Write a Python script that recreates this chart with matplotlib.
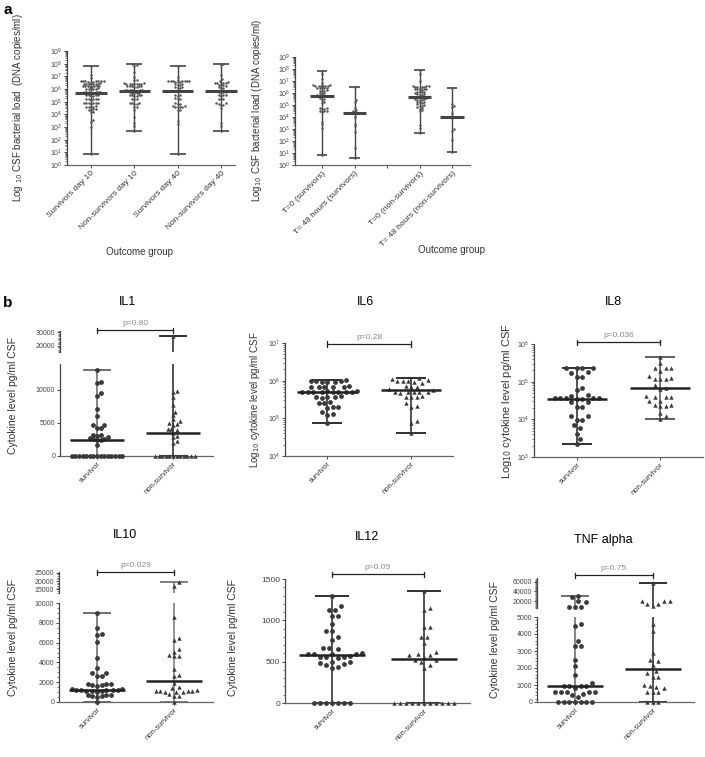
import numpy as np
import matplotlib
matplotlib.use('Agg')
import matplotlib.pyplot as plt
from matplotlib.ticker import LogLocator, MultipleLocator, NullFormatter
from matplotlib.transforms import blended_transform_factory

plt.rcParams['font.family'] = ['Liberation Sans', 'DejaVu Sans']

# ---- panel a: CSF bacterial load, log10 copies/ml ----
a_groups_left = ['Survivors day 10', 'Non-survivors day 10',
                 'Survivors day 40', 'Non-survivors day 40']
a_surv_d10 = [7.82, 7.1, 6.9,
              6.65, 6.62, 6.6, 6.6, 6.58, 6.55, 6.6, 6.63, 6.57, 6.6,
              6.42, 6.4, 6.38, 6.45, 6.4, 6.36, 6.43, 6.4,
              6.2, 6.22, 6.18, 6.25, 6.2, 6.15, 6.2, 6.23,
              6.0, 6.02, 5.98, 6.05, 5.97, 6.0,
              5.78, 5.75, 5.72, 5.77, 5.74, 5.7, 5.76, 5.73,
              5.5, 5.52, 5.48, 5.5, 5.45, 5.55,
              5.22, 5.2, 5.18, 5.25, 5.2, 5.15,
              4.9, 4.88, 4.92, 4.85, 4.9, 4.87, 4.93,
              4.6, 4.62, 4.58, 4.55, 4.6,
              4.4, 4.38, 4.42, 4.35, 4.2, 4.15,
              3.55, 3.4, 3.0, 0.9]
a_nonsurv_d10 = [8.0, 7.9, 7.85, 7.35, 6.95, 6.7, 6.72,
                 6.45, 6.42, 6.4, 6.38, 6.45, 6.4, 6.43, 6.36, 6.4,
                 6.2, 6.22, 6.18, 6.25, 6.2, 6.15, 6.2,
                 5.92, 5.9, 5.88, 5.95, 5.9, 5.87, 5.93, 5.9,
                 5.72, 5.7, 5.68, 5.75, 5.7,
                 5.5, 5.52, 5.48, 5.45, 5.55, 5.5,
                 5.2, 5.18, 5.22,
                 4.88, 4.85, 4.9, 4.82, 4.86,
                 4.6, 4.55, 4.35, 3.8, 3.3, 3.1, 2.7]
a_surv_d40 = [7.8, 6.95, 6.75,
              6.6, 6.62, 6.58, 6.6, 6.55, 6.63, 6.6, 6.57, 6.6, 6.62,
              6.38, 6.35, 6.4, 6.33,
              6.12, 6.1, 6.08, 6.15,
              5.88, 5.85, 5.83, 5.87, 5.85, 5.82,
              5.5, 5.52, 5.48,
              5.25, 5.22, 5.28,
              4.85, 4.88, 4.82,
              4.62, 4.6, 4.58, 4.6, 4.57, 4.63,
              4.38, 4.35, 3.45, 3.25, 0.9]
a_nonsurv_d40 = [8.0, 7.9, 7.1, 6.8, 6.65,
                 6.5, 6.48, 6.52, 6.45, 6.5, 6.47,
                 6.3, 6.28, 6.32, 6.25,
                 6.1, 6.08, 6.12,
                 5.8, 5.78, 5.82, 5.75, 5.8,
                 5.55, 5.5, 5.52, 5.48,
                 5.2, 5.18, 5.22,
                 4.88, 4.85, 4.9, 4.75, 4.72,
                 4.5, 3.3, 3.1, 2.7]
a_med_left = [5.72, 5.85, 5.88, 5.85]

a_groups_right = ['T=0 (survivors)', 'T= 48 hours (survivors)', '',
                  'T=0 (non-survivors)', 'T= 48 hours (non-survivors)']
a_t0_surv = [7.8, 7.6, 7.2, 6.8,
             6.65, 6.6, 6.62, 6.58, 6.63, 6.6, 6.57, 6.6,
             6.42, 6.4, 6.38, 6.45, 6.4,
             6.2, 6.22, 6.18, 6.15,
             6.0, 5.95, 5.98,
             5.77, 5.75, 5.78, 5.8, 5.74,
             5.5, 5.45, 5.55, 5.2, 5.22,
             4.75, 4.7, 4.72, 4.68,
             4.5, 4.45, 4.48, 4.52,
             3.6, 3.4, 3.05, 0.8]
a_t48_surv = [6.49, 5.43, 5.24, 4.79, 4.57, 4.46, 4.3, 4.29, 4.04,
              3.43, 3.21, 2.73, 1.45, 0.62]
a_t0_nonsurv = [7.94, 7.6, 7.0, 6.55,
                6.6, 6.5, 6.55, 6.48, 6.52, 6.45, 6.5,
                6.3, 6.28, 6.35, 6.25, 6.3, 6.32,
                6.1, 6.05, 6.12, 6.08, 6.0,
                5.85, 5.88, 5.82, 5.9,
                5.66, 5.65, 5.68, 5.63, 5.7, 5.67, 5.6, 5.58,
                5.45, 5.5, 5.42, 5.48, 5.35,
                5.25, 5.2, 5.28, 5.15,
                5.0, 4.95, 5.05, 4.9, 4.85,
                4.75, 4.7, 4.55, 4.46, 3.35, 3.07, 2.65]
a_t48_nonsurv = [6.41, 5.07, 4.88, 4.8, 4.32, 4.1, 4.04, 3.98, 3.9,
                 3.0, 2.84, 2.1, 1.06]
a_med_right = [5.77, 4.3, None, 5.66, 4.04]

# ---- panel b: cytokines, pg/ml CSF ----
b_groups = ['survivor', 'non-survivor']

il1_surv = [13000, 11200, 11000, 9500, 9100, 7100, 6100, 4600, 4600, 4200, 4200,
            3200, 3100, 3000, 2800, 2700, 2600, 2500, 2400, 2400, 1700] + [0] * 15
il1_nonsurv = [27000, 9900, 9600, 8900, 7700, 6700, 6200, 5600, 5200, 5000, 4800,
               4700, 4100, 4000, 3900, 3500, 3000, 2900, 2300, 1900] + [0] * 12
il1_med = [2400, 3500]

il6_surv = [9.5e5, 9.8e5, 9.5e5, 1.0e6, 9.5e5, 9.7e5, 1.05e6,
            6.9e5, 6.7e5, 7.0e5, 6.8e5, 6.6e5, 7.1e5,
            5.1e5, 5.0e5, 5.2e5, 4.9e5, 5.0e5, 5.1e5, 4.9e5, 5.0e5, 5.2e5, 5.0e5,
            3.6e5, 3.7e5, 3.5e5, 3.6e5, 3.8e5,
            2.6e5, 2.7e5, 2.6e5, 1.95e5, 2.0e5, 1.9e5,
            1.3e5, 1.5e5, 1.25e5, 7.4e4]
il6_nonsurv = [1.15e6, 1.1e6, 1.0e6, 1.05e6, 1.0e6, 1.0e6, 9.5e5, 8.5e5,
               7.0e5, 7.2e5, 6.8e5, 6.0e5, 5.8e5,
               5.0e5, 5.1e5, 4.9e5, 5.0e5, 5.1e5, 4.8e5,
               3.7e5, 3.6e5, 3.8e5, 3.7e5,
               2.6e5, 2.0e5, 2.1e5, 8.5e4, 7.5e4, 4.1e4]
il6_med = [4.9e5, 5.8e5]

il8_surv = [2.3e5, 2.35e5, 2.3e5, 2.25e5, 1.75e5, 1.8e5, 1.32e5, 1.35e5,
            6.7e4, 6e4, 4.4e4, 4.2e4,
            3.6e4, 3.7e4, 3.5e4, 3.6e4, 3.7e4, 3.5e4, 3.6e4,
            2.8e4, 2.9e4, 2.17e4, 2.1e4, 1.22e4, 1.2e4, 9.5e3, 9.8e3,
            7e3, 5.8e3, 4.2e3, 3e3, 2.2e3]
il8_nonsurv = [4.6e5, 3.2e5, 2.3e5, 2.3e5, 2.25e5, 1.9e5, 1.4e5, 1.2e5, 1.25e5,
               1.2e5, 1.15e5, 8e4, 6.6e4, 6.5e4,
               4e4, 4.1e4, 3.9e4, 4e4, 3e4, 3.1e4, 2.2e4, 2.3e4, 2.4e4, 2.4e4,
               1.5e4, 1.2e4, 1.05e4]
il8_med = [3.5e4, 6.7e4]

il10_surv = [9000, 7500, 6900, 6800, 6100, 4400, 3400, 2900, 2900, 2600, 2600,
             1800, 1800, 1700, 1700, 1800, 1600,
             1250, 1200, 1300, 1150, 1250, 1100, 1200, 1300, 1150, 1200, 1050,
             700, 750, 650, 700, 550, 600, 0]
il10_nonsurv = [19200, 17000, 8600, 6500, 6300, 5400, 5100, 4600, 4600, 4700,
                3300, 2700, 2600, 1900, 1500, 1400,
                1100, 1000, 1050, 1000, 1100, 1150, 1100, 1200, 800, 600, 600, 0]
il10_med = [1200, 2100]

il12_surv = [1300, 1170, 1130, 1120, 1050, 1050, 960, 870, 870, 800, 760, 660, 660, 650,
             590, 590, 595, 590, 600, 560, 560, 555, 565, 540, 500, 490, 470, 460,
             480, 440, 420] + [0] * 7
il12_nonsurv = [1350, 1150, 1120, 920, 920, 800, 800, 730, 620, 590, 580, 580,
                560, 520, 520, 460, 490, 420] + [0] * 11
il12_med = [575, 535]

tnf_surv = [31000, 28000, 19000, 17000, 7500, 7500, 7500,
            4600, 4500, 3600, 3300, 3300, 2500, 2100, 1600, 1100,
            950, 950, 950, 950, 800, 600, 600, 600, 600, 600, 500, 400, 300] + [0] * 7
tnf_nonsurv = [57000, 20000, 14000, 10000, 14000, 20000, 21000,
               4600, 4200, 2900, 2500, 2400, 2200, 1800, 1700, 1500, 1500,
               1000, 900, 950, 800, 600, 600, 600] + [0] * 3
tnf_med = [950, 1950]

p_values = {'IL1': 'p=0.80', 'IL6': 'p=0.28', 'IL8': 'p=0.036',
            'IL10': 'p=0.029', 'IL12': 'p=0.09', 'TNF alpha': 'p=0.75'}

W, H = 705, 757
fig = plt.figure(figsize=(W / 100, H / 100), dpi=100)
AX_C = '#444444'
TXT_C = '#333333'


def fy(y):
    return 1 - y / H


def px_axes(l, t, r, b):
    return fig.add_axes([l / W, 1 - b / H, (r - l) / W, (b - t) / H])


def style(ax, labelsize=5, xaxis=True):
    ax.spines['top'].set_visible(False)
    ax.spines['right'].set_visible(False)
    ax.spines['left'].set_color(AX_C)
    ax.spines['left'].set_linewidth(0.9)
    ax.spines['bottom'].set_color('#666666')
    ax.spines['bottom'].set_linewidth(0.9)
    ax.patch.set_visible(False)
    ax.tick_params(direction='out', length=2.5, width=0.7, colors=AX_C,
                   labelsize=labelsize, pad=1)
    ax.tick_params(which='minor', direction='out', length=1.5, width=0.5, colors=AX_C)
    if not xaxis:
        ax.spines['bottom'].set_visible(False)
        ax.set_xticks([])


def log_y(ax, lo, hi):
    ax.set_yscale('log')
    ax.set_ylim(lo, hi)
    ax.yaxis.set_major_locator(LogLocator(base=10, numticks=20))
    ax.yaxis.set_minor_locator(LogLocator(base=10, subs=np.arange(2, 10), numticks=20))
    ax.yaxis.set_minor_formatter(NullFormatter())


def swarm_px(ypix, d):
    # greedy beeswarm in pixel space
    order = np.argsort(ypix, kind='stable')
    xs = np.zeros(len(ypix))
    placed = []
    step = d / 2.0
    cands = [0.0]
    for k in range(1, 80):
        cands += [k * step, -k * step]
    for i in order:
        y = ypix[i]
        near = [(px, py) for px, py in placed if abs(py - y) < d]
        for c in cands:
            if all((c - px) ** 2 + (y - py) ** 2 >= (0.999 * d) ** 2 for px, py in near):
                xs[i] = c
                break
        placed.append((xs[i], y))
    return xs


def dot_group(axs, x, vals, med, d, marker='o', s=10, mcolor='#3a3a3a',
              wcolor='#333333', mcol='#222222', cap=0.36, medw=0.72,
              lw=1.0, mlw=1.8):
    vals = np.asarray(vals, float)
    lo = axs[0]
    up = axs[1] if len(axs) > 1 else None
    top_lo = lo.get_ylim()[1]
    in_up = (vals > top_lo) if up is not None else np.zeros(len(vals), bool)
    ypix = np.array([(up if u else lo).transData.transform((x, v))[1]
                     for v, u in zip(vals, in_up)])
    offs = swarm_px(ypix, d)
    x0, x1 = lo.get_xlim()
    xs = x + offs * (x1 - x0) / lo.bbox.width
    vmin, vmax = vals.min(), vals.max()
    kw = dict(color=wcolor, lw=lw, clip_on=False, zorder=2, solid_capstyle='butt')
    if up is not None and vmax > top_lo:
        lo.plot([x, x], [vmin, top_lo], **kw)
        up.plot([x, x], [up.get_ylim()[0], vmax], **kw)
        cap_ax = up
    else:
        lo.plot([x, x], [vmin, vmax], **kw)
        cap_ax = lo
    kw['lw'] = lw * 1.2
    cap_ax.plot([x - cap / 2, x + cap / 2], [vmax, vmax], **kw)
    lo.plot([x - cap / 2, x + cap / 2], [vmin, vmin], **kw)
    lo.plot([x - medw / 2, x + medw / 2], [med, med], color=mcol, lw=mlw,
            clip_on=False, zorder=4, solid_capstyle='butt')
    lo.scatter(xs[~in_up], vals[~in_up], marker=marker, s=s, c=mcolor,
               linewidths=0, clip_on=False, zorder=3)
    if up is not None and in_up.any():
        up.scatter(xs[in_up], vals[in_up], marker=marker, s=s, c=mcolor,
                   linewidths=0, clip_on=False, zorder=3)


def bracket(ax, x0, x1, ypx, text):
    tr = blended_transform_factory(ax.transData, fig.transFigure)
    ax.plot([x0, x0], [fy(ypx - 2.5), fy(ypx + 2.5)], transform=tr, color='#222', lw=0.9, clip_on=False)
    ax.plot([x1, x1], [fy(ypx - 2.5), fy(ypx + 2.5)], transform=tr, color='#222', lw=0.9, clip_on=False)
    ax.plot([x0, x1], [fy(ypx), fy(ypx)], transform=tr, color='#222', lw=0.9, clip_on=False)
    ax.text((x0 + x1) / 2, fy(ypx - 3), text, transform=tr, ha='center', va='bottom',
            fontsize=6, color='#8a8a8a')


def cat_xaxis(ax, labels, size):
    ax.set_xticks(range(len(labels)))
    ax.set_xticklabels(labels, rotation=45, ha='right', rotation_mode='anchor',
                       fontsize=size, color=TXT_C)


# ================= panel a =================
fig.text(3 / W, fy(10), 'a', fontsize=11, fontweight='bold', va='center')

axL = px_axes(67, 51, 235, 165)
style(axL)
axL.set_xlim(-0.554, 3.325)
log_y(axL, 1, 1e9)
cat_xaxis(axL, a_groups_left, 6)
for i, grp in enumerate([a_surv_d10, a_nonsurv_d10, a_surv_d40, a_nonsurv_d40]):
    dot_group([axL], i, 10 ** np.array(grp), 10 ** a_med_left[i], d=2.3, s=3.2,
              mcolor='#555555', wcolor='#444444', mcol='#444444', cap=0.37,
              medw=0.72, lw=1.0, mlw=2.2)
fig.text(18 / W, fy(108), 'Log $_{10}$ CSF bacterial load  (DNA copies/ml)',
         rotation=90, ha='center', va='center', fontsize=7, color=TXT_C)
fig.text(140 / W, fy(252), 'Outcome group', ha='center', va='center', fontsize=7, color=TXT_C)

axR = px_axes(295, 57, 470, 165)
style(axR)
axR.set_xlim(-0.83, 4.55)
log_y(axR, 1, 1e9)
cat_xaxis(axR, a_groups_right, 6)
for i, grp in enumerate([a_t0_surv, a_t48_surv, None, a_t0_nonsurv, a_t48_nonsurv]):
    if grp is None:
        continue
    dot_group([axR], i, 10 ** np.array(grp), 10 ** a_med_right[i], d=2.3, s=3.2,
              mcolor='#555555', wcolor='#444444', mcol='#444444', cap=0.33,
              medw=0.72, lw=1.0, mlw=2.2)
fig.text(257 / W, fy(110), 'Log$_{10}$ CSF bacterial load (DNA copies/ml)',
         rotation=90, ha='center', va='center', fontsize=7, color=TXT_C)
fig.text(452 / W, fy(250), 'Outcome group', ha='center', va='center', fontsize=7, color=TXT_C)

# ================= panel b =================
fig.text(3 / W, fy(303), 'b', fontsize=11, fontweight='bold', va='center')

panels = [
    dict(name='IL1', data=(il1_surv, il1_nonsurv), med=il1_med,
         lo_box=(60, 363.5, 213, 455.7), lo_lim=(0, 14000),
         up_box=(60, 330.7, 213, 352.3), up_lim=(15000, 31200),
         xlim=(-0.487, 1.526), lo_ticks=[0, 5000, 10000], lo_minor=None,
         up_ticks=[20000, 30000], up_minor=1000,
         d=3.6, title=(127, 302), br=330, yl=(13, 395), ylsize=7.5,
         ylabel='Cytokine level pg/ml CSF', wcol=('#666666', '#222222')),
    dict(name='IL6', data=(il6_surv, il6_nonsurv), med=il6_med, log=True,
         lo_box=(285, 343, 453, 456), lo_lim=(1e4, 1e7), xlim=(-0.5, 1.5),
         d=5.5, title=(365, 302), br=344, yl=(255, 400), ylsize=7,
         ylabel='Log$_{10}$ cytokine level pg/ml CSF', wcol=('#222222', '#222222')),
    dict(name='IL8', data=(il8_surv, il8_nonsurv), med=il8_med, log=True,
         lo_box=(534, 344, 703, 457), lo_lim=(1e3, 1e6), xlim=(-0.518, 1.518),
         d=5.5, title=(613, 302), br=342, yl=(507, 401), ylsize=8,
         ylabel='Log$_{10}$ cytokine level pg/ml CSF', wcol=('#222222', '#555555')),
    dict(name='IL10', data=(il10_surv, il10_nonsurv), med=il10_med,
         lo_box=(59, 603, 213, 702), lo_lim=(0, 10000),
         up_box=(59, 572, 213, 592.6), up_lim=(13000, 25500),
         xlim=(-0.494, 1.506), lo_ticks=list(range(0, 10001, 2000)), lo_minor=500,
         up_ticks=[15000, 20000, 25000], up_minor=1000,
         d=4.6, title=(125, 535), br=572, yl=(13, 638), ylsize=7.5,
         ylabel='Cytokine level pg/ml CSF', wcol=('#666666', '#777777')),
    dict(name='IL12', data=(il12_surv, il12_nonsurv), med=il12_med,
         lo_box=(285, 579, 470, 703), lo_lim=(0, 1500), xlim=(-0.51, 1.5),
         lo_ticks=[0, 500, 1000, 1500], lo_minor=100, tsize=6,
         d=6.0, title=(367, 537), br=574, yl=(233, 638), ylsize=7.5,
         ylabel='Cytokine level pg/ml CSF', wcol=('#222222', '#222222')),
    dict(name='TNF alpha', data=(tnf_surv, tnf_nonsurv), med=tnf_med,
         lo_box=(537, 617, 694, 702), lo_lim=(0, 5000),
         up_box=(537, 578, 694, 608), up_lim=(5500, 67700),
         xlim=(-0.487, 1.53), lo_ticks=list(range(0, 5001, 1000)), lo_minor=200,
         up_ticks=[20000, 40000, 60000], up_minor=2000,
         d=5.6, title=(603, 540), br=575, yl=(495, 640), ylsize=7.5,
         ylabel='Cytokine level pg/ml CSF', wcol=('#666666', '#222222')),
]

for p in panels:
    lo = px_axes(*p['lo_box'])
    style(lo, labelsize=p.get('tsize', 5))
    lo.set_xlim(*p['xlim'])
    axs = [lo]
    if p.get('log'):
        log_y(lo, *p['lo_lim'])
    else:
        lo.set_ylim(*p['lo_lim'])
        lo.set_yticks(p['lo_ticks'])
        if p['lo_minor']:
            lo.yaxis.set_minor_locator(MultipleLocator(p['lo_minor']))
    if 'up_box' in p:
        up = px_axes(*p['up_box'])
        style(up, labelsize=5, xaxis=False)
        up.set_xlim(*p['xlim'])
        up.set_ylim(*p['up_lim'])
        up.set_yticks(p['up_ticks'])
        up.yaxis.set_minor_locator(MultipleLocator(p['up_minor']))
        axs.append(up)
    cat_xaxis(lo, b_groups, 5.5)
    for i, (vals, mk) in enumerate(zip(p['data'], ['o', '^'])):
        dot_group(axs, i, vals, p['med'][i], d=p['d'], marker=mk,
                  s=12 if mk == 'o' else 10, wcolor=p['wcol'][i], cap=0.36,
                  medw=0.72, lw=1.1, mlw=1.8)
    bracket(lo, 0, 1, p['br'], p_values[p['name']])
    fig.text(p['title'][0] / W, fy(p['title'][1]), p['name'], ha='center',
             va='center', fontsize=9)
    fig.text(p['yl'][0] / W, fy(p['yl'][1]), p['ylabel'], rotation=90,
             ha='center', va='center', fontsize=p['ylsize'], color=TXT_C)

fig.savefig('out.png', dpi=100)
